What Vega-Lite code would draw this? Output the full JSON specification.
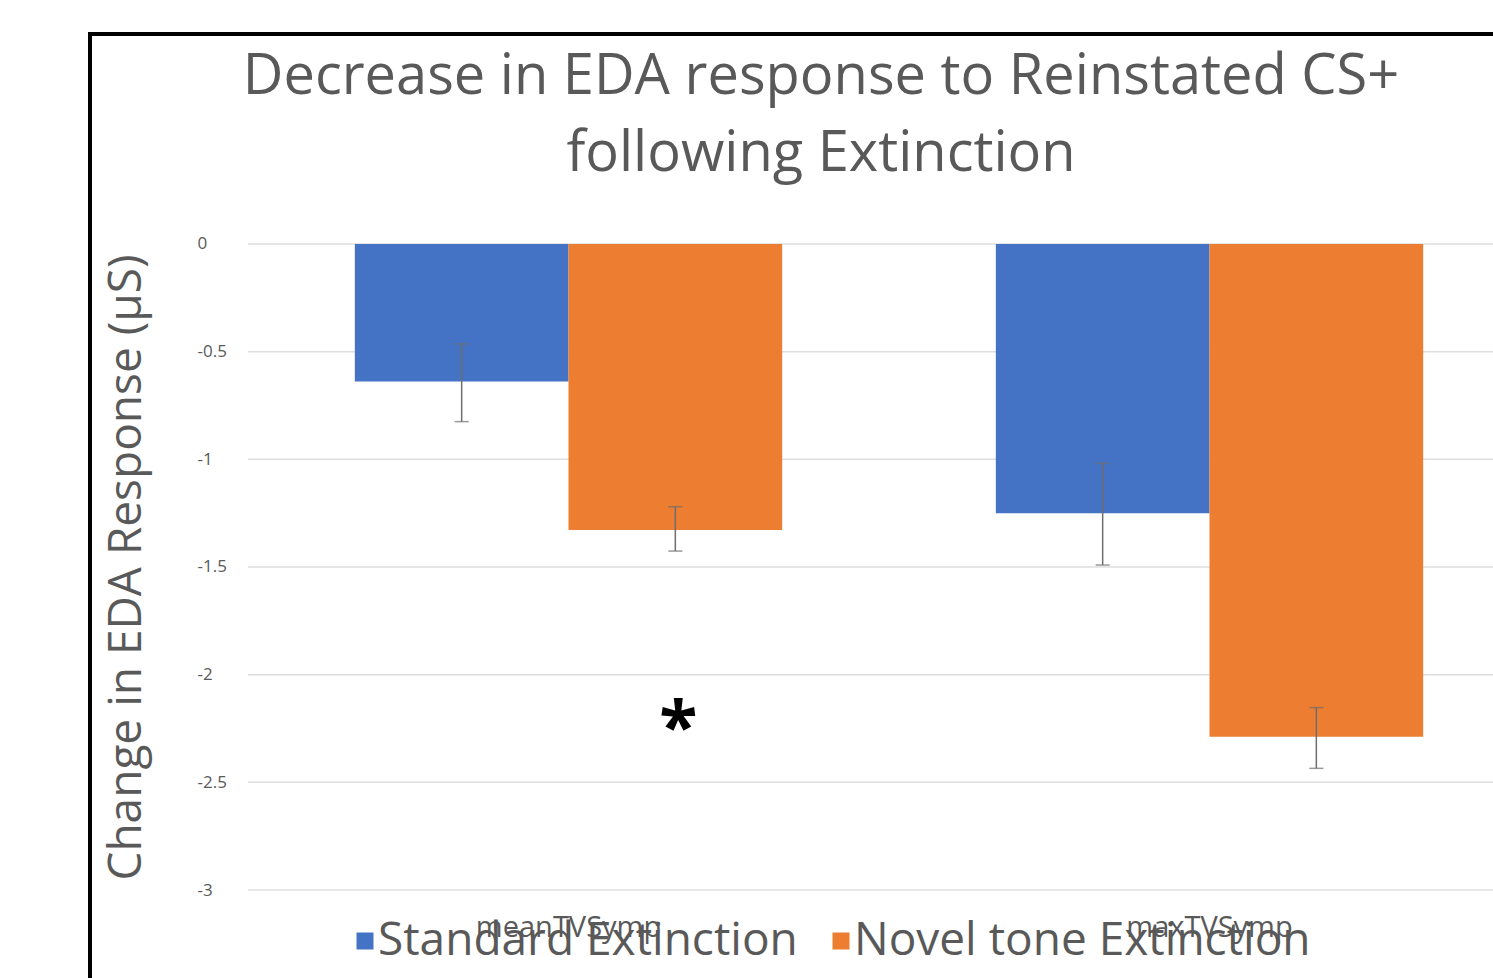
{
  "$schema": "https://vega.github.io/schema/vega-lite/v6.json",
  "autosize": "none",
  "width": 1462,
  "height": 954,
  "padding": {"left": 90, "top": 34, "right": 0, "bottom": 0},
  "background": "white",
  "config": {
    "view": {"stroke": "black", "strokeWidth": 4},
    "font": "Open Sans"
  },
  "title": {
    "text": ["Decrease in EDA response to Reinstated CS+", "following Extinction"],
    "fontSize": 56,
    "fontWeight": "normal",
    "color": "#595959",
    "lineHeight": 77,
    "anchor": "middle",
    "baseline": "top",
    "offset": -149
  },
  "datasets": {
    "bars": [
      {"group": "meanTVSymp", "series": "Standard Extinction", "value": -0.639, "lo": -0.825, "hi": -0.464},
      {"group": "meanTVSymp", "series": "Novel tone Extinction", "value": -1.328, "lo": -1.426, "hi": -1.220},
      {"group": "maxTVSymp", "series": "Standard Extinction", "value": -1.251, "lo": -1.491, "hi": -1.019},
      {"group": "maxTVSymp", "series": "Novel tone Extinction", "value": -2.288, "lo": -2.435, "hi": -2.153}
    ],
    "grid": [
      {"v": 0, "from": "meanTVSymp", "to": "maxTVSymp"},
      {"v": -0.5, "from": "meanTVSymp", "to": "maxTVSymp"},
      {"v": -1, "from": "meanTVSymp", "to": "maxTVSymp"},
      {"v": -1.5, "from": "meanTVSymp", "to": "maxTVSymp"},
      {"v": -2, "from": "meanTVSymp", "to": "maxTVSymp"},
      {"v": -2.5, "from": "meanTVSymp", "to": "maxTVSymp"},
      {"v": -3, "from": "meanTVSymp", "to": "maxTVSymp"}
    ],
    "notes": [
      {"group": "meanTVSymp", "series": "Novel tone Extinction", "y": -2.2, "label": "*"}
    ]
  },
  "layer": [
    {
      "data": {"name": "grid"},
      "mark": {"type": "rule", "color": "#DEDEDE", "strokeWidth": 1.5},
      "encoding": {
        "x": {"field": "from", "type": "nominal", "bandPosition": 0,
              "scale": {"domain": ["meanTVSymp", "maxTVSymp"], "range": [158, 1440], "paddingInner": 0, "paddingOuter": 0},
              "axis": {"orient": "bottom", "offset": -98, "domain": false, "ticks": false, "labelAngle": 0,
                       "labelFontSize": 29, "labelColor": "#595959", "labelPadding": 23, "labelLimit": 1000, "title": null}},
        "x2": {"field": "to", "bandPosition": 1},
        "y": {"field": "v", "type": "quantitative",
              "scale": {"domain": [-3.455, 0.975], "nice": false, "zero": false},
              "axis": {"orient": "left", "offset": -107, "domain": false, "ticks": false, "grid": false,
                       "values": [0, -0.5, -1, -1.5, -2, -2.5, -3],
                       "labelExpr": "'' + datum.value",
                       "labelAlign": "left", "labelPadding": 0, "labelFontSize": 17, "labelColor": "#595959",
                       "title": "Change in EDA Response (μS)", "titleFontSize": 46, "titleFontWeight": "normal",
                       "titleColor": "#595959", "titlePadding": 47, "titleY": 533}}
      }
    },
    {
      "data": {"name": "bars"},
      "mark": {"type": "bar"},
      "encoding": {
        "x": {"field": "group", "type": "nominal"},
        "xOffset": {"field": "series", "type": "nominal",
                    "scale": {"domain": ["Standard Extinction", "Novel tone Extinction"], "paddingInner": 0, "paddingOuter": 0.5}},
        "y": {"field": "value", "type": "quantitative"},
        "y2": {"datum": 0},
        "color": {"field": "series", "type": "nominal",
                  "scale": {"domain": ["Standard Extinction", "Novel tone Extinction"], "range": ["#4472C4", "#ED7D31"]},
                  "legend": {"orient": "none", "legendX": 252, "legendY": 884, "direction": "horizontal", "title": null,
                             "symbolType": "square", "symbolSize": 289, "symbolStrokeWidth": 0, "labelFontSize": 46,
                             "labelColor": "#595959", "labelOffset": -10, "columnPadding": 20, "labelLimit": 1000}}
      }
    },
    {
      "data": {"name": "bars"},
      "mark": {"type": "rule", "color": "#6E6E6E", "strokeWidth": 1.5},
      "encoding": {
        "x": {"field": "group", "type": "nominal"},
        "xOffset": {"field": "series", "type": "nominal"},
        "y": {"field": "lo", "type": "quantitative"},
        "y2": {"field": "hi"}
      }
    },
    {
      "data": {"name": "bars"},
      "mark": {"type": "tick", "color": "#6E6E6E", "thickness": 1.5, "size": 14},
      "encoding": {
        "x": {"field": "group", "type": "nominal"},
        "xOffset": {"field": "series", "type": "nominal"},
        "y": {"field": "lo", "type": "quantitative"}
      }
    },
    {
      "data": {"name": "bars"},
      "mark": {"type": "tick", "color": "#6E6E6E", "thickness": 1.5, "size": 14},
      "encoding": {
        "x": {"field": "group", "type": "nominal"},
        "xOffset": {"field": "series", "type": "nominal"},
        "y": {"field": "hi", "type": "quantitative"}
      }
    },
    {
      "data": {"name": "notes"},
      "mark": {"type": "text", "fontSize": 70, "fontWeight": "bold", "color": "black", "baseline": "middle", "align": "center", "dx": 3, "dy": 12},
      "encoding": {
        "x": {"field": "group", "type": "nominal"},
        "xOffset": {"field": "series", "type": "nominal"},
        "y": {"field": "y", "type": "quantitative"},
        "text": {"field": "label"}
      }
    }
  ]
}
